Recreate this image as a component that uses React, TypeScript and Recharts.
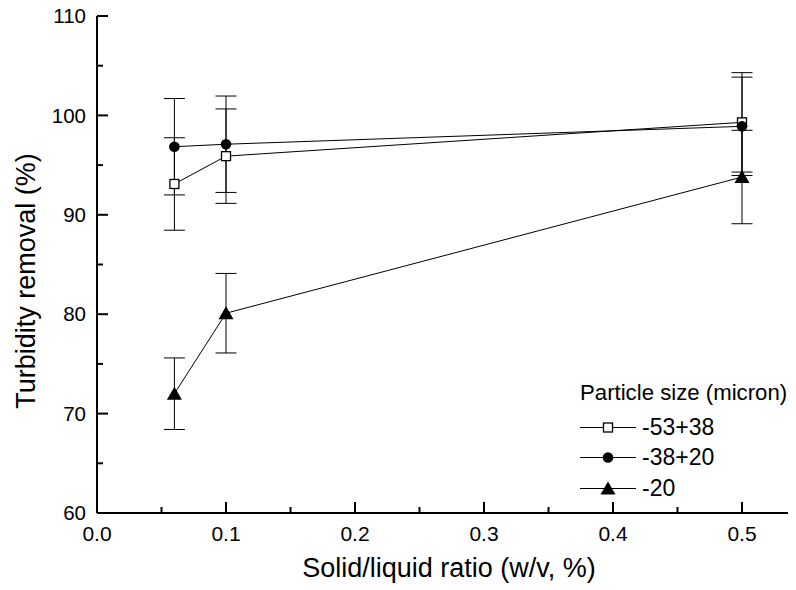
import { LineChart, Line, XAxis, YAxis, ErrorBar, Legend, Label } from "recharts";

// solid/liquid ratio (w/v, %)
const xValues = [0.06, 0.1, 0.5];

const seriesNames = ["-53+38", "-38+20", "-20"];
const coarseY = [93.1, 95.9, 99.3];
const coarseErr = [4.65, 4.75, 5.0];
const mediumY = [96.85, 97.1, 98.9];
const mediumErr = [4.85, 4.85, 4.95];
const fineY = [72.0, 80.1, 93.8];
const fineErr = [3.6, 4.0, 4.7];

const xTicks = [0, 0.05, 0.1, 0.15, 0.2, 0.25, 0.3, 0.35, 0.4, 0.45, 0.5, 0.55];
const yTicks = [60, 65, 70, 75, 80, 85, 90, 95, 100, 105, 110];

// plot box inside the svg
const PL = 89;
const PR = 798.5;
const PT = 16;
const PB = 513;

const FONT = "'Liberation Sans', Arial, sans-serif";

const toRows = (ys: number[], errs: number[]) =>
  xValues.map((x, i) => ({ x, y: ys[i], err: errs[i] }));

const coarseData = toRows(coarseY, coarseErr);
const mediumData = toRows(mediumY, mediumErr);
const fineData = toRows(fineY, fineErr);

type Kind = "square" | "circle" | "triangle";
const kinds: Kind[] = ["square", "circle", "triangle"];

function Marker({ kind, cx, cy }: { kind: Kind; cx: number; cy: number }) {
  if (kind === "square")
    return <rect x={cx - 4.5} y={cy - 4.5} width={9} height={9} fill="#fff" stroke="#000" strokeWidth={1.3} />;
  if (kind === "circle") return <circle cx={cx} cy={cy} r={5.3} fill="#000" />;
  return <polygon points={`${cx},${cy - 7} ${cx - 7.5},${cy + 6} ${cx + 7.5},${cy + 6}`} fill="#000" />;
}

const isMajor = (v: number, step: number) => Math.round(v / step) % 2 === 0;

function BottomTick({ x, payload }: any) {
  const v = payload.value;
  const major = isMajor(v, 0.05);
  return (
    <g>
      <line x1={x} x2={x} y1={PB} y2={PB - (major ? 11 : 6)} stroke="#000" strokeWidth={2} />
      {major && (
        <text x={x} y={PB + 28} textAnchor="middle" fontSize={21} fill="#000">
          {v.toFixed(1)}
        </text>
      )}
    </g>
  );
}

function TopTick({ x, payload }: any) {
  const major = isMajor(payload.value, 0.05);
  return <line x1={x} x2={x} y1={PT} y2={PT + (major ? 11 : 6)} stroke="#000" strokeWidth={2} />;
}

function LeftTick({ y, payload }: any) {
  const v = payload.value;
  const major = isMajor(v, 5);
  return (
    <g>
      <line x1={PL} x2={PL + (major ? 11 : 6)} y1={y} y2={y} stroke="#000" strokeWidth={2} />
      {major && (
        <text x={PL - 11} y={y + 7.2} textAnchor="end" fontSize={20.5} fill="#000">
          {v}
        </text>
      )}
    </g>
  );
}

function RightTick({ y, payload }: any) {
  const major = isMajor(payload.value, 5);
  return <line x1={PR} x2={PR - (major ? 11 : 6)} y1={y} y2={y} stroke="#000" strokeWidth={2} />;
}

function LegendBox() {
  const rows = [57, 87, 118];
  return (
    <svg width={230} height={130} style={{ fontFamily: FONT, overflow: "visible" }}>
      <text x={2} y={22} fontSize={22.2} fill="#000">
        Particle size (micron)
      </text>
      {seriesNames.map((name, i) => (
        <g key={name}>
          <line x1={2} x2={58} y1={rows[i] - 7.5} y2={rows[i] - 7.5} stroke="#000" strokeWidth={1} />
          <Marker kind={kinds[i]} cx={30} cy={rows[i] - 7.5} />
          <text x={64} y={rows[i]} fontSize={23} fill="#000">
            {name}
          </text>
        </g>
      ))}
    </svg>
  );
}

export default function App() {
  const seriesData = [coarseData, mediumData, fineData];
  return (
    <div style={{ width: 788, height: 590, marginTop: -8, overflowX: "clip", overflowY: "visible", position: "relative", fontFamily: FONT }}>
      <LineChart width={820} height={590} margin={{ top: 16, right: 11.5, bottom: 0, left: 0 }}>
        <XAxis
          type="number"
          dataKey="x"
          domain={[0, 0.55]}
          ticks={xTicks}
          interval={0}
          height={77}
          tickLine={false}
          tick={BottomTick}
          axisLine={{ stroke: "#000", strokeWidth: 2 }}
          allowDataOverflow
        >
          <Label
            content={() => (
              <text x={441} y={577} textAnchor="middle" fontSize={27} fill="#000">
                Solid/liquid ratio (w/v, %)
              </text>
            )}
          />
        </XAxis>
        <XAxis
          xAxisId="top"
          orientation="top"
          type="number"
          dataKey="x"
          domain={[0, 0.55]}
          ticks={xTicks}
          interval={0}
          height={0}
          tickLine={false}
          tick={TopTick}
          axisLine={{ stroke: "#000", strokeWidth: 2 }}
          allowDataOverflow
        />
        <YAxis
          type="number"
          domain={[60, 110]}
          ticks={yTicks}
          interval={0}
          width={89}
          tickLine={false}
          tick={LeftTick}
          axisLine={{ stroke: "#000", strokeWidth: 2 }}
          allowDataOverflow
        >
          <Label
            content={() => (
              <text
                x={27}
                y={281}
                transform="rotate(-90 27 281)"
                textAnchor="middle"
                fontSize={27}
                fill="#000"
              >
                Turbidity removal (%)
              </text>
            )}
          />
        </YAxis>
        <YAxis
          yAxisId="right"
          orientation="right"
          type="number"
          domain={[60, 110]}
          ticks={yTicks}
          interval={0}
          width={10}
          tickLine={false}
          tick={RightTick}
          axisLine={{ stroke: "#000", strokeWidth: 2 }}
          allowDataOverflow
        />
        {seriesData.map((data, i) => (
          <Line
            key={seriesNames[i]}
            name={seriesNames[i]}
            data={data}
            dataKey="y"
            type="linear"
            stroke="#000"
            strokeWidth={1}
            isAnimationActive={false}
            dot={(p: any) => <Marker key={`${i}-${p.index}`} kind={kinds[i]} cx={p.cx} cy={p.cy} />}
            activeDot={false}
          >
            <ErrorBar dataKey="err" direction="y" width={10.5} stroke="#000" strokeWidth={1} isAnimationActive={false} />
          </Line>
        ))}
        <Legend
          layout="horizontal"
          verticalAlign="middle"
          align="center"
          wrapperStyle={{ left: 570, top: 378, width: 230, height: 130 }}
          content={LegendBox}
        />
      </LineChart>
    </div>
  );
}
